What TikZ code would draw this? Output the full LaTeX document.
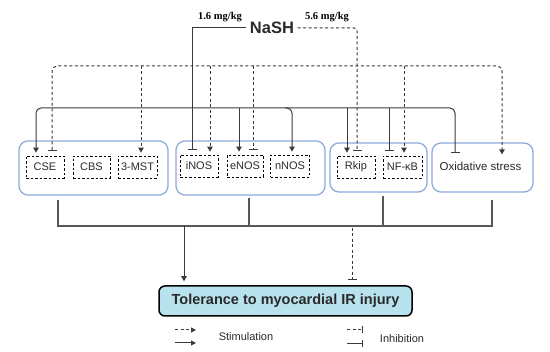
\documentclass[tikz,border=0pt]{standalone}
\usepackage{fontspec}
\setmainfont{Liberation Sans}
\newfontfamily\serifb{Liberation Serif}
\usetikzlibrary{arrows.meta,calc}
\definecolor{grpblue}{HTML}{8EA9DB}
\definecolor{tolfill}{HTML}{B8E3EE}
\definecolor{lnclr}{HTML}{3A3A3A}
\definecolor{txtclr}{HTML}{2A2A2A}
\begin{document}
\begin{tikzpicture}[x=1pt,y=-1pt,
  grp/.style={draw=grpblue, line width=1.3pt, rounded corners=9pt, inner sep=0pt},
  inbox/.style={draw=black, dash pattern=on 2.5pt off 2pt, line width=0.8pt, minimum height=22pt, inner sep=0pt, text=txtclr, font=\fontsize{11}{12}\selectfont},
  conn/.style={draw=lnclr, line width=1pt},
  bconn/.style={draw=lnclr!85, line width=1.2pt},
  dsh/.style={dash pattern=on 3pt off 2.5pt},
  stim/.style={-{Triangle[length=5pt,width=5.5pt]}},
  inh/.style={-{Bar[width=9pt,line width=1pt]}},
  lbl/.style={text=txtclr, font=\fontsize{11}{12}\selectfont}
]
\useasboundingbox (0,0) rectangle (550,352);

% top labels
\node[font=\bfseries\fontsize{16.5}{18}\selectfont, text=txtclr] (nash) at (272,28) {NaSH};
\node[font=\serifb\bfseries\fontsize{10.5}{12}\selectfont] (d16) at (220,17) {1.6 mg/kg};
\node[font=\serifb\bfseries\fontsize{10.5}{12}\selectfont] (d56) at (327,17) {5.6 mg/kg};

% group boxes
\node[grp, minimum width=149pt, minimum height=54pt] (g1) at (93.5,168) {};
\node[grp, minimum width=149pt, minimum height=54pt] (g2) at (250.5,168) {};
\node[grp, minimum width=97pt, minimum height=49pt] (g3) at (378.5,167.5) {};
\node[grp, minimum width=101pt, minimum height=49pt] (g4) at (482.5,167.5) {};

% inner boxes
\node[inbox, minimum width=38pt] (CSE) at (45,167) {CSE};
\node[inbox, minimum width=37pt] (CBS) at (91.5,167) {CBS};
\node[inbox, minimum width=39pt] (MST) at (137.5,167) {3-MST};
\node[inbox, minimum width=38pt] (iNOS) at (199,166) {iNOS};
\node[inbox, minimum width=36pt] (eNOS) at (245,166) {eNOS};
\node[inbox, minimum width=39pt] (nNOS) at (290,166) {nNOS};
\node[inbox, minimum width=38pt] (Rkip) at (356,167) {Rkip};
\node[inbox, minimum width=39pt] (NFkB) at (402.5,167) {NF-κB};
\node[lbl, font=\fontsize{11.5}{13}\selectfont] (Ox) at (480.5,166) {Oxidative stress};

% target box
\node[draw=black, line width=1.5pt, fill=tolfill, rounded corners=6pt, minimum width=253pt, minimum height=30pt, inner sep=0pt, text=txtclr, font=\bfseries\fontsize{14.5}{16}\selectfont] (tol) at (285.5,301) {Tolerance to myocardial IR injury};

% NaSH connectors
\draw[conn,inh] (nash.west) -| ($(iNOS.north)+(-7,-5)$);
\draw[conn,dsh,inh,rounded corners=3pt] (nash.east) -| ($(Rkip.north)+(1,-5)$);

% dashed bus
\coordinate (dA) at (52,66);
\coordinate (dB) at (141,66);
\coordinate (dC) at (210,66);
\coordinate (dD) at (253,66);
\coordinate (dE) at (404,66);
\coordinate (dF) at (502,66);
\draw[conn,dsh,rounded corners=5pt,{Bar[width=9pt,line width=1pt]}-{Triangle[length=5pt,width=5.5pt]}]
  ($(CSE.north -| dA)+(0,-5)$) -- (dA) -- (dF) -- ($(g4.north -| dF)+(0,12)$);
\draw[conn,dsh,stim] (dB) -- ($(MST.north -| dB)+(0,-3)$);
\draw[conn,dsh,stim] (dC) -- ($(iNOS.north -| dC)+(0,-3)$);
\draw[conn,dsh,inh] (dD) -- ($(eNOS.north -| dD)+(0,-5)$);
\draw[conn,dsh,stim] (dE) -- ($(NFkB.north -| dE)+(0,-3)$);

% solid bus
\coordinate (sA) at (36,108);
\coordinate (sB) at (239,108);
\coordinate (sC) at (292,108);
\coordinate (sD) at (347,108);
\coordinate (sE) at (389,108);
\coordinate (sF) at (455,108);
\draw[conn,rounded corners=5pt,{Triangle[length=5pt,width=5.5pt]}-{Bar[width=9pt,line width=1pt]}]
  ($(CSE.north -| sA)+(0,-3)$) -- (sA) -- (sF) -- ($(g4.north -| sF)+(0,11)$);
\draw[conn,stim] (sB) -- ($(eNOS.north -| sB)+(0,-3)$);
\draw[conn,stim,rounded corners=5pt] ($(sC)+(-7,0)$) -- (sC) -- ($(nNOS.north -| sC)+(0,-3)$);
\draw[conn,stim] (sD) -- ($(Rkip.north -| sD)+(0,-3)$);
\draw[conn,inh] (sE) -- ($(NFkB.north -| sE)+(0,-5)$);

% bottom collector
\coordinate (bL) at (58,226);
\coordinate (b2) at (249,226);
\coordinate (b3) at (383,226);
\coordinate (bR) at (492,226);
\coordinate (bA) at (184,226);
\coordinate (bD) at (352,228);
\draw[bconn] ($(g1.south -| bL)+(0,4)$) -- (bL) -- (bR) -- ($(g4.south -| bR)+(0,7)$);
\draw[bconn] ($(g2.south -| b2)+(0,2)$) -- (b2);
\draw[bconn] ($(g3.south -| b3)+(0,3)$) -- (b3);
\draw[conn,stim] (bA) -- ($(tol.north -| bA)+(0,-4)$);
\draw[conn,dsh,inh] (bD) -- ($(tol.north -| bD)+(0,-5)$);

% legend
\coordinate (l1a) at (175,330); \coordinate (l1b) at (196,330);
\coordinate (l2a) at (175,343); \coordinate (l2b) at (196,343);
\coordinate (l3a) at (347,330); \coordinate (l3b) at (363,330);
\coordinate (l4a) at (347,344); \coordinate (l4b) at (363,344);
\draw[conn,dsh,-{Triangle[length=5pt,width=5pt]}] (l1a) -- (l1b);
\draw[conn,-{Triangle[length=5pt,width=5pt]}] (l2a) -- (l2b);
\draw[conn,dsh,-{Bar[width=7pt,line width=1pt]}] (l3a) -- (l3b);
\draw[conn,-{Bar[width=7pt,line width=1pt]}] (l4a) -- (l4b);
\node[lbl] (stimtxt) at (246,337) {Stimulation};
\node[lbl] (inhtxt) at (402,339) {Inhibition};
\end{tikzpicture}
\end{document}
